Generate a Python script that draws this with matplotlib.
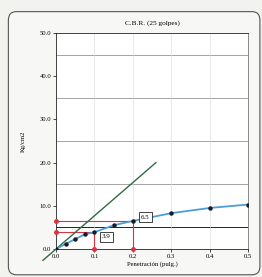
import matplotlib
matplotlib.use('Agg')
import matplotlib.pyplot as plt
from matplotlib.patches import FancyBboxPatch

# CBR test data (25 blows)
penetration = [0.0, 0.025, 0.05, 0.075, 0.1, 0.15, 0.2, 0.3, 0.4, 0.5]
pressure = [0.0, 1.2, 2.3, 3.4, 3.9, 5.5, 6.5, 8.3, 9.5, 10.3]

# tangent (correction) line
tangent_x = [-0.034, 0.26]
tangent_y = [-2.6, 20.0]

# values read at 0.1 and 0.2 in
read_x = [0.1, 0.2]
read_y = [3.9, 6.5]
read_labels = ['3.9', '6.5']
label_pos = [(0.131, 2.8), (0.232, 7.4)]

y_ticks = [0, 10, 20, 30, 40, 50]
x_ticks = [0.0, 0.1, 0.2, 0.3, 0.4, 0.5]

plt.rcParams['font.family'] = ['Liberation Serif', 'DejaVu Serif']

fig = plt.figure(figsize=(2.62, 2.77), dpi=100)
fig.patch.set_facecolor('#f2f2ef')

# rounded frame around the chart
frame = FancyBboxPatch((0.032, 0.008), 0.96, 0.95, boxstyle='round,pad=0,rounding_size=0.03',
                       transform=fig.transFigure, facecolor='#f7f7f5', edgecolor='#555555',
                       linewidth=0.8, zorder=-5)
fig.patches.append(frame)

ax = fig.add_axes([0.214, 0.101, 0.733, 0.780])
ax.set_zorder(2)
ax.set_facecolor('white')

# grid lines
for g in [5, 15, 25, 35, 45]:
    ax.axhline(g, color='#222222' if g == 5 else '#808080', linewidth=0.7 if g == 5 else 0.5, zorder=1)
for g in [0.1, 0.2, 0.3, 0.4]:
    ax.axvline(g, color='#d8d8d8', linewidth=0.4, zorder=1)

# tangent line
ax.plot(tangent_x, tangent_y, color='#2e6b40', linewidth=1.0, clip_on=False, zorder=3)

# red reading lines
for xr, yr in zip(read_x, read_y):
    ax.plot([0, xr], [yr, yr], color='#e03040', linewidth=0.8, zorder=2)
    ax.plot([xr, xr], [0, yr], color='#e03040', linewidth=0.8, zorder=2)
    ax.plot([0], [yr], 'o', color='#e03040', markersize=2.5, clip_on=False, zorder=4)
    ax.plot([xr], [0], 'o', color='#e03040', markersize=2.5, clip_on=False, zorder=4)

# data curve
ax.plot(penetration, pressure, color='#4a9fd8', linewidth=1.3, zorder=4)
ax.plot(penetration, pressure, 'o', color='#1a1a2a', markersize=2.2, zorder=5)

for lab, (lx, ly) in zip(read_labels, label_pos):
    ax.text(lx, ly, lab, fontsize=5, ha='center', va='center', zorder=6,
            bbox=dict(boxstyle='square,pad=0.3', facecolor='white', edgecolor='#222222', linewidth=0.6))

ax.set_xlim(0, 0.5)
ax.set_ylim(0, 50)
ax.set_xticks(x_ticks)
ax.set_xticklabels([f'{v:.1f}' for v in x_ticks])
ax.set_yticks(y_ticks)
ax.set_yticklabels([f'{v:.1f}' for v in y_ticks])
ax.tick_params(labelsize=4.8, length=2, width=0.5, pad=1.5)
for s in ax.spines.values():
    s.set_linewidth(0.6)
    s.set_color('#222222')
ax.spines['right'].set_color('#777777')

ax.set_title('C.B.R. (25 golpes)', fontsize=5.2, pad=6)
ax.set_xlabel('Penetración (pulg.)', fontsize=4.8, labelpad=1.5)
ax.set_ylabel('Kg/cm2', fontsize=4.8, labelpad=10)

fig.savefig('out.png', dpi=100, facecolor=fig.get_facecolor())
